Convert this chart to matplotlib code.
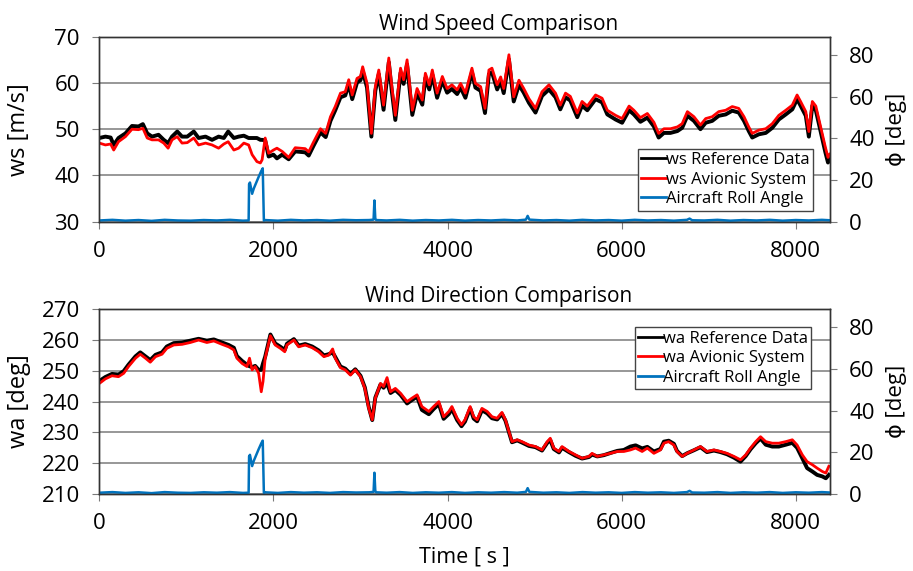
import matplotlib.pyplot as plt
from matplotlib.lines import Line2D

plt.rcParams['font.family'] = ['Open Sans', 'DejaVu Sans']

# wind speed [m/s] vs time [s]
t_ws = [0, 70, 130, 165, 220, 300, 375, 450, 500, 550, 605, 680, 740, 790, 835, 895, 950, 1010,
        1085, 1140, 1220, 1295, 1370, 1430, 1480, 1545, 1600, 1660, 1715, 1755, 1810, 1850, 1870,
        1905, 1945, 2000, 2040, 2100, 2175, 2250, 2365, 2405, 2460, 2540, 2600, 2655, 2710, 2770,
        2825, 2865, 2905, 2960, 3000, 3025, 3075, 3125, 3170, 3210, 3265, 3325, 3360, 3400, 3460,
        3495, 3535, 3595, 3650, 3710, 3745, 3790, 3825, 3880, 3940, 3995, 4050, 4110, 4150, 4205,
        4280, 4320, 4380, 4430, 4475, 4510, 4570, 4610, 4645, 4705, 4760, 4820, 4875, 4935, 5010,
        5085, 5165, 5240, 5295, 5355, 5410, 5490, 5545, 5605, 5700, 5775, 5835, 5930, 6005, 6085,
        6140, 6215, 6295, 6370, 6425, 6485, 6560, 6640, 6695, 6755, 6830, 6905, 6965, 7040, 7115,
        7195, 7270, 7345, 7405, 7460, 7500, 7575, 7655, 7730, 7805, 7885, 7960, 8015, 8055, 8115,
        8150, 8190, 8230, 8285, 8340, 8370, 8390]
ws_avi = [47.0, 46.6, 46.8, 45.5, 47.3, 48.4, 50.0, 49.9, 50.2, 48.1, 47.7, 47.7, 47.0, 45.9, 47.7,
          48.4, 47.0, 47.1, 48.1, 46.6, 47.0, 46.6, 45.9, 46.8, 47.3, 45.5, 45.9, 47.0, 46.6, 44.5,
          43.0, 42.7, 43.4, 48.1, 44.8, 45.5, 45.9, 45.2, 43.9, 46.0, 45.8, 45.1, 47.2, 50.1, 49.1,
          52.7, 54.9, 57.8, 58.1, 60.7, 57.4, 61.0, 61.4, 63.5, 59.9, 49.1, 59.2, 62.8, 55.2, 65.4,
          59.2, 53.0, 63.2, 60.7, 65.0, 54.1, 58.8, 56.3, 62.1, 59.6, 62.8, 57.8, 61.4, 58.8, 59.6,
          58.5, 59.9, 57.8, 63.2, 59.9, 59.2, 54.5, 62.8, 63.2, 59.6, 61.3, 58.8, 66.1, 57.0, 60.6,
          58.8, 56.6, 54.5, 58.1, 59.6, 57.8, 55.2, 57.8, 57.1, 53.5, 56.0, 55.0, 57.4, 56.7, 54.1,
          53.0, 52.3, 55.0, 54.1, 52.5, 53.4, 51.5, 49.1, 50.1, 50.1, 50.5, 51.2, 53.8, 52.7, 50.9,
          52.3, 52.7, 53.8, 54.1, 54.9, 54.5, 52.7, 50.5, 49.1, 49.8, 50.1, 51.2, 53.0, 54.1, 55.2,
          57.4, 56.0, 53.8, 49.5, 56.0, 55.0, 50.5, 46.1, 43.9, 44.6]
ws_ref = [48.1, 48.4, 48.2, 46.6, 48.1, 49.1, 50.7, 50.6, 51.1, 49.1, 48.4, 48.8, 47.7, 47.0, 48.4,
          49.5, 48.4, 48.4, 49.5, 48.1, 48.4, 47.7, 48.4, 48.1, 49.5, 48.1, 48.4, 48.6, 48.1, 48.1,
          48.1, 47.7, 47.7, 47.6, 44.1, 44.5, 43.7, 44.5, 43.5, 45.2, 45.0, 44.3, 46.4, 49.3, 48.3,
          51.8, 54.1, 56.9, 57.3, 59.7, 56.5, 60.1, 60.6, 62.6, 59.0, 48.4, 58.3, 61.9, 54.2, 64.5,
          58.2, 52.0, 62.2, 59.8, 64.0, 53.1, 57.8, 55.3, 61.1, 58.6, 61.8, 56.8, 60.5, 57.9, 58.7,
          57.6, 59.0, 56.8, 62.3, 59.0, 58.3, 53.5, 61.9, 62.3, 58.6, 60.4, 57.8, 65.1, 56.0, 59.6,
          57.9, 55.7, 53.6, 57.2, 58.6, 56.9, 54.3, 56.9, 56.2, 52.6, 55.1, 54.1, 56.5, 55.8, 53.2,
          52.1, 51.4, 54.1, 53.2, 51.6, 52.5, 50.6, 48.2, 49.2, 49.2, 49.6, 50.3, 52.9, 51.8, 50.0,
          51.4, 51.8, 52.9, 53.2, 54.0, 53.6, 51.8, 49.6, 48.2, 48.9, 49.2, 50.3, 52.1, 53.2, 54.3,
          56.5, 55.1, 52.9, 48.4, 55.1, 54.1, 49.6, 45.0, 42.8, 43.5]

# wind direction [deg] vs time [s]
t_wa = [0, 70, 145, 220, 280, 335, 415, 470, 530, 585, 645, 720, 775, 855, 950, 1045, 1140, 1235,
        1315, 1410, 1485, 1545, 1580, 1640, 1695, 1725, 1755, 1790, 1830, 1860, 1880, 1905, 1965,
        2020, 2080, 2130, 2155, 2235, 2290, 2365, 2445, 2520, 2580, 2635, 2680, 2710, 2770, 2825,
        2885, 2940, 3000, 3050, 3095, 3135, 3170, 3230, 3265, 3305, 3345, 3400, 3460, 3535, 3590,
        3650, 3705, 3785, 3840, 3900, 3955, 4015, 4050, 4110, 4160, 4200, 4260, 4300, 4340, 4395,
        4455, 4510, 4570, 4625, 4665, 4705, 4740, 4800, 4855, 4935, 5010, 5085, 5145, 5180, 5220,
        5280, 5315, 5395, 5470, 5545, 5625, 5660, 5720, 5795, 5870, 5950, 6025, 6100, 6160, 6235,
        6295, 6370, 6445, 6485, 6540, 6600, 6635, 6695, 6750, 6830, 6905, 6980, 7060, 7135, 7210,
        7290, 7365, 7425, 7480, 7540, 7595, 7655, 7730, 7805, 7885, 7960, 8015, 8075, 8130, 8190,
        8245, 8305, 8345, 8380]
wa_avi = [245.9, 247.4, 248.4, 248.1, 249.2, 251.4, 254.1, 255.4, 254.1, 252.8, 254.6, 255.4, 257.3,
          258.4, 258.6, 259.2, 260.0, 259.2, 259.7, 258.6, 257.8, 256.8, 254.1, 252.4, 251.4, 254.1,
          250.3, 251.4, 249.2, 243.2, 246.5, 254.1, 261.4, 258.4, 257.3, 256.2, 258.4, 260.0, 257.8,
          258.4, 257.5, 256.2, 254.6, 255.1, 257.1, 254.1, 251.0, 250.3, 248.6, 250.3, 248.1, 244.3,
          237.8, 234.1, 241.1, 245.9, 244.9, 247.8, 243.2, 244.3, 242.7, 240.0, 241.1, 242.2, 238.4,
          236.8, 238.4, 240.0, 235.1, 236.8, 238.4, 234.6, 232.5, 234.1, 238.4, 235.1, 234.1, 237.8,
          236.8, 235.1, 234.6, 236.5, 234.1, 230.3, 227.0, 227.6, 227.0, 225.9, 225.4, 224.3, 227.0,
          228.1, 224.9, 223.8, 225.4, 223.8, 222.7, 221.6, 222.2, 223.2, 222.2, 222.7, 223.2, 223.8,
          223.8, 224.3, 224.9, 223.8, 224.9, 223.2, 224.3, 226.5, 227.0, 225.9, 223.8, 222.2, 223.2,
          224.3, 225.4, 223.8, 224.3, 223.8, 223.2, 222.2, 221.1, 222.7, 224.9, 227.0, 228.6, 227.0,
          226.5, 226.5, 227.0, 227.6, 225.9, 222.7, 220.5, 219.5, 218.4, 217.3, 216.8, 219.0]
wa_ref = [246.7, 248.0, 249.0, 248.8, 249.9, 252.0, 254.7, 256.0, 254.7, 253.5, 255.2, 256.0, 257.9,
          259.0, 259.2, 259.8, 260.4, 259.8, 260.2, 259.2, 258.4, 257.5, 254.8, 253.2, 252.0, 251.5,
          251.2, 251.6, 250.3, 250.3, 252.4, 254.6, 261.8, 258.9, 257.8, 256.8, 258.8, 260.3, 258.2,
          258.7, 257.9, 256.6, 255.0, 255.4, 256.0, 254.5, 251.4, 250.7, 249.0, 250.5, 248.4, 244.6,
          238.2, 234.0, 241.3, 245.6, 244.5, 246.0, 242.8, 243.8, 242.2, 239.4, 240.5, 241.6, 237.3,
          235.9, 237.6, 239.2, 234.4, 236.0, 237.6, 234.0, 232.0, 233.5, 237.8, 234.5, 233.6, 237.2,
          236.2, 234.6, 234.2, 236.0, 233.8, 230.0, 226.8, 227.4, 226.7, 225.6, 225.2, 224.1, 226.6,
          227.5, 224.6, 223.5, 225.0, 223.6, 222.4, 221.5, 222.0, 222.8, 222.2, 222.6, 223.3, 224.0,
          224.3, 225.4, 225.8, 224.8, 225.3, 223.8, 224.6, 227.0, 227.3, 226.3, 224.0, 222.3, 223.2,
          224.2, 225.2, 223.6, 224.1, 223.6, 222.9, 221.8, 220.5, 222.3, 224.5, 226.5, 228.0, 226.0,
          225.4, 225.4, 226.0, 226.6, 225.0, 221.6, 218.4, 217.3, 216.2, 215.7, 215.1, 216.2]

# aircraft roll angle [deg]
t_roll = [0, 150, 300, 450, 600, 750, 900, 1050, 1200, 1350, 1500, 1650, 1715, 1720, 1730, 1755,
          1775, 1800, 1830, 1860, 1877, 1890, 1900, 2050, 2200, 2350, 2500, 2650, 2800, 2950, 3100,
          3150, 3160, 3170, 3180, 3300, 3450, 3600, 3750, 3900, 4050, 4200, 4350, 4500, 4650, 4800,
          4900, 4920, 4940, 5100, 5250, 5400, 5550, 5700, 5850, 6000, 6150, 6300, 6450, 6600, 6750,
          6780, 6810, 6950, 7100, 7250, 7400, 7550, 7700, 7850, 8000, 8150, 8300, 8390]
roll = [0.6, 0.9, 0.5, 0.8, 0.4, 0.9, 0.6, 0.5, 0.8, 0.6, 0.9, 0.5, 0.6, 18.0, 18.8, 13.4,
        16.0, 18.5, 21.5, 24.3, 25.6, 0.5, 0.8, 0.5, 0.9, 0.6, 0.8, 0.5, 0.9, 0.7, 0.8,
        1.0, 10.2, 1.5, 0.8, 0.6, 0.9, 0.5, 0.8, 0.6, 0.9, 0.5, 0.8, 0.6, 0.9, 0.6,
        1.0, 2.8, 1.0, 0.6, 0.8, 0.5, 0.9, 0.6, 0.8, 0.5, 0.9, 0.6, 0.8, 0.5, 0.9,
        1.5, 0.7, 0.6, 0.9, 0.5, 0.8, 0.6, 0.9, 0.5, 0.8, 0.6, 0.9, 0.7]

blk = '#000000'
red = '#ff0000'
blu = '#0072bd'
grey = '#7a7a7a'

fig = plt.figure(figsize=(9.13, 5.71), dpi=100)


def panel(rect, t, ref, avi, ylim, yticks, ylab, title, names, legloc, anchor):
    ax = fig.add_axes(rect)
    ax.plot(t, ref, color=blk, lw=2.8)
    ax.plot(t, avi, color=red, lw=2.0)
    ax.set_xlim(0, 8390)
    ax.set_ylim(*ylim)
    ax.set_yticks(yticks)
    ax.set_xticks([0, 2000, 4000, 6000, 8000])
    ax.yaxis.grid(True, color=grey, lw=1.1)
    ax.set_axisbelow(True)
    ax.tick_params(direction='out', length=5, color=grey, labelsize=16)
    ax.tick_params(axis='y', pad=9)
    ax.tick_params(axis='x', pad=9)
    ax.set_ylabel(ylab, fontsize=17)
    ax.yaxis.set_label_coords(-0.093, 0.5)
    ax.set_title(title, fontsize=15, pad=5, x=0.546)
    for s in ax.spines.values():
        s.set_color('#333333')
        s.set_linewidth(1.0)

    ax2 = ax.twinx()
    ax2.plot(t_roll, roll, color=blu, lw=1.8)
    ax2.set_ylim(0, 88.7)
    ax2.set_yticks([0, 20, 40, 60, 80])
    ax2.tick_params(direction='out', length=5, color=grey, labelsize=16, pad=9)
    ax2.set_ylabel('ϕ [deg]', fontsize=16)
    ax2.yaxis.set_label_coords(1.077, 0.5)
    for s in ax2.spines.values():
        s.set_color('#333333')
        s.set_linewidth(1.0)

    handles = [Line2D([], [], color=blk, lw=2), Line2D([], [], color=red, lw=2),
               Line2D([], [], color=blu, lw=2)]
    leg = ax2.legend(handles, names, loc=legloc, bbox_to_anchor=anchor, fontsize=12,
                     frameon=True, fancybox=False, edgecolor='#444444', framealpha=1,
                     handlelength=1.5, handletextpad=0.0, borderpad=0.2, labelspacing=0.22,
                     borderaxespad=0)
    leg.get_frame().set_linewidth(1.0)
    return ax


top = panel([0.1088, 0.6117, 0.800, 0.324], t_ws, ws_ref, ws_avi, (30, 70), [30, 40, 50, 60, 70],
            'ws [m/s]', 'Wind Speed Comparison',
            ['ws Reference Data', 'ws Avionic System', 'Aircraft Roll Angle'],
            'lower right', (0.977, 0.06))
bot = panel([0.1088, 0.1349, 0.800, 0.3235], t_wa, wa_ref, wa_avi, (210, 270),
            [210, 220, 230, 240, 250, 260, 270],
            'wa [deg]', 'Wind Direction Comparison',
            ['wa Reference Data', 'wa Avionic System', 'Aircraft Roll Angle'],
            'upper right', (0.975, 0.903))
bot.set_xlabel('Time [ s ]', fontsize=15.5, labelpad=9)

fig.savefig('out.png', dpi=100)
